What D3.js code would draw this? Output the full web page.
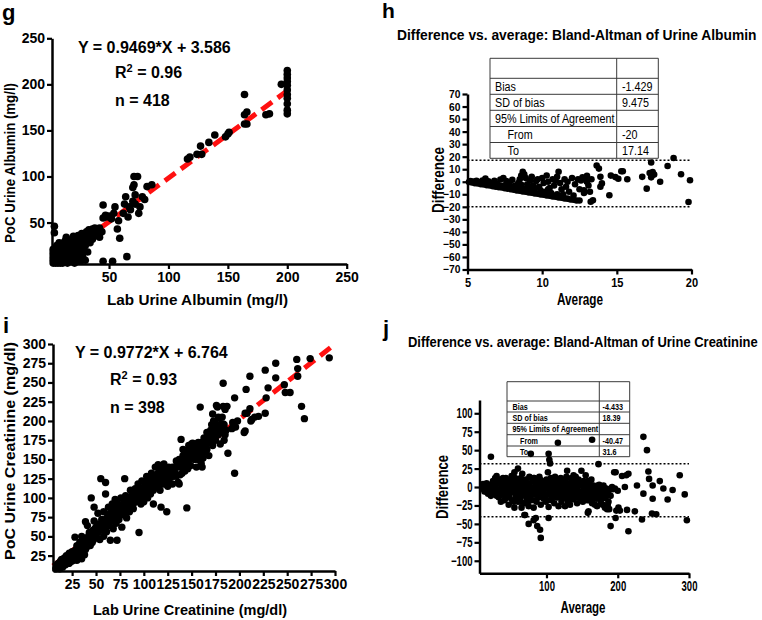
<!DOCTYPE html>
<html><head><meta charset="utf-8">
<script src="https://cdn.jsdelivr.net/npm/d3@7"></script>
<style>
body{margin:0;background:#fff;}
text{font-family:"Liberation Sans",Arial,Helvetica,sans-serif;}
</style></head>
<body><svg id="c" width="762" height="620"></svg>
<script>
// ---------- DATA ----------
// g: Lab vs PoC urine albumin (mg/l)
const albTicks = [50,100,150,200,250];
const albScatter = [
[3,6],[3,9],[3,12],[3,15],[3,18],[3,21],[4,8],[4,14],[4,20],[5,6],[5,10],[5,13],[5,17],[5,22],[6,7],[6,11],[6,15],[6,19],[7,6],[7,9],[7,13],[7,18],[8,8],[8,12],[8,16],[8,21],[9,6],[9,10],[9,14],[10,8],[10,12],[10,17],[10,22],[11,6],[11,11],[12,9],[12,15],[12,20],[13,7],[13,12],[14,10],[14,18],[15,6],[15,14],[15,22],[16,9],[16,26],[17,12],[17,18],[18,8],[18,21],[18,30],[19,14],[19,25],[20,10],[20,18],[20,35],[21,6],[21,22],[21,28],[22,13],[22,32],[23,9],[23,18],[23,25],[24,15],[24,36],[25,20],[25,29],[26,8],[26,24],[26,33],[27,16],[27,38],[28,12],[28,27],[29,20],[29,34],[30,25],[30,9],[31,30],[31,40],[32,18],[33,35],[33,42],[34,28],[35,38],[36,32],[36,43],[37,40],[38,44],[39,36],[40,42],[42,38],[44,40],[42,44],[12,28],[8,28],[4,39],[4,46],[14,34],[13,30],[10,27],[6,25],
[45,8],[53,8],[65,13],[57,43],[59,33],[42,34],[45,55],[47,58],[50,57],[52,54],[55,67],[45,69],[48,56],[54,60],[58,52],[62,60],[63,70],[64,78],[68,64],[70,73],[72,70],[66,56],[67,67],[72,80],[75,60],[76,67],[70,88],[71,100],[74,100],[71,91],[78,78],[80,75],[82,89],[86,91],[116,119],[118,121],[124,124],[128,124],[127,133],[134,137],[139,145],[148,143],[150,146],[151,148],[164,157],[166,157],[164,167],[166,170],[164,189],[182,167],[185,168],[195,200],[200,215],[200,211],[200,207],[200,203],[200,199],[200,194],[200,189],[200,185],[200,179],[200,172],[200,168]
];
const albFit = {slope:0.9469, intercept:3.586, from:2, to:200};
// h: Bland-Altman albumin
const baAlbXTicks = [5,10,15,20];
const baAlbYTicks = [-70,-60,-50,-40,-30,-20,-10,0,10,20,30,40,50,60,70];
const baAlb = [
[5.1,-0.2],[5.3,-0.6],[5.5,-1.1],[5.7,-1.4],[5.9,-1.9],[6.1,-2.2],[6.3,-2.8],[6.5,-3.0],[6.7,-3.6],[6.9,-3.9],[7.1,-4.4],[7.3,-4.6],[7.5,-5.2],[7.7,-5.5],[7.9,-6.0],[8.1,-6.3],[8.3,-6.9],[8.5,-7.1],[8.7,-7.7],[8.9,-8.0],[9.1,-8.5],[9.3,-8.7],[9.5,-9.3],[9.7,-9.5],[9.9,-10.1],[10.1,-10.3],[10.3,-10.9],[10.5,-11.1],[10.7,-11.7],[10.9,-11.9],[11.1,-12.5],[11.3,-12.7],[11.5,-13.3],[11.7,-13.5],[11.9,-14.1],[12.1,-14.3],[12.3,-14.9],[12.5,-15.0],
[5.2,0.5],[5.4,0.2],[5.6,0.8],[5.8,-0.5],[6.0,1],[6.2,2.5],[6.4,0.3],[6.6,-1],[6.8,0.8],[7.0,-1.5],[7.2,1.8],[7.4,3],[7.6,0.5],[7.8,-2.5],[8.0,1.5],[8.2,-3],[8.4,-1],[8.5,2],[8.6,5],[8.7,8],[8.8,6],[8.9,3],[9.0,-2],[9.1,-5],[9.2,1],[9.3,4],[9.4,-3],[9.5,-6],[9.6,0.5],[9.7,2],[9.8,-4],[9.9,-7],[10.0,3],[10.1,-1],[10.2,-8],[10.3,5],[10.4,0],[10.5,-5],[10.6,-9],[10.7,2],[10.8,-3],[10.9,1],[11.0,4],[11.1,8],[11.2,-1],[11.3,-6],[11.4,-10],[11.5,2],[11.6,-4],[11.7,0],[11.8,-8],[12.0,3],[12.1,-11],[12.2,-2],[12.4,2],[12.5,-6],[12.6,1],[12.8,-9],[12.9,3],[13.0,0],[13.1,-3],[13.2,-8],[13.3,2],
[6.3,-1.5],[7.0,-2.5],[7.5,-3],[8.0,-4],[8.3,-5],[8.7,-5.5],[9.0,-6.5],[9.4,-7],[7.8,-1],[8.6,-2.5],[9.2,-3.8],[10.0,-8.5],[10.4,-6],[11.0,-10],[7.3,-3.2],[6.6,-2],[5.9,-0.8],
[19.9,1.2],[19.8,-16.2],[19.3,6],[18.8,19],[18.4,12.6],[17.9,0],[17.4,7.8],[17.3,15.4],[17.2,7],[17.3,3.5],[17.5,5.7],[17.0,-5.5],[16.7,3.9],[15.7,2],[15.4,8.4],[15.3,8.4],[14.9,3.7],[15.1,2.4],[14.6,4.9],[14.5,-10.8],[13.9,3.9],[13.8,10.5],[13.65,13],[13.9,-4],[14.0,-1.3],[13.4,-14.8],[13.25,-16],[13.0,0.2],[12.8,-6.8],[13.0,4.7],[12.7,3.5]
];
const baAlbStats = {bias:-1.429, sd:9.475, from:-20, to:17.14};
const baAlbTable = [["",""],["Bias","-1.429"],["SD of bias","9.475"],["95% Limits of Agreement",""],["From","-20"],["To","17.14"]];
// i: Lab vs PoC urine creatinine (mg/dl)
const creTicks = [25,50,75,100,125,150,175,200,225,250,275,300];
const creScatter = [
[8,8],[9,12],[10,9],[11,15],[12,11],[13,18],[14,14],[15,10],[15,20],[16,16],[17,22],[18,13],[18,19],[19,25],[20,17],[21,22],[22,28],[22,15],[23,20],[24,25],[25,30],[25,18],[26,23],[27,28],[28,20],[28,49],[29,33],[30,25],[30,38],[30,19],[32,30],[33,42],[34,28],[35,50],[35,21],[36,45],[37,33],[38,40],[38,26],[39,69],[40,36],[41,64],[42,44],[43,55],[44,38],
[45,50],[45,100],[46,42],[47,58],[48,70],[48,88],[50,48],[50,62],[52,55],[52,80],[53,66],[54,46],[55,58],[55,125],[56,72],[57,62],[58,50],[58,82],[60,67],[60,105],[60,120],[61,56],[62,75],[63,88],[64,64],[65,45],[65,80],[66,70],[67,92],[68,60],[69,76],[70,85],[70,98],[71,67],[72,45],[72,80],[73,92],[74,72],[75,86],[76,100],[77,62],[78,78],[79,94],[80,125],[80,84],[81,103],[82,74],[83,90],[84,98],[85,82],[86,110],[87,94],[88,104],[89,86],[90,100],[91,112],[92,95],[93,108],[94,118],[95,55],[95,100],[96,110],[97,92],[98,122],[99,104],[100,114],[100,95],
[101,120],[102,108],[103,128],[104,100],[105,115],[106,122],[107,105],[108,132],[109,118],[110,92],[110,110],[111,126],[112,140],[113,115],[114,130],[115,143],[116,120],[117,110],[118,88],[118,134],[120,125],[121,144],[122,118],[123,130],[124,82],[124,138],[125,115],[126,122],[128,128],[130,118],[132,134],[134,128],[135,143],[136,120],[137,118],[138,130],[139,176],[140,140],[141,163],[142,152],[143,135],[144,148],[145,87],[145,160],[146,138],[147,168],[148,150],[149,142],[150,162],[151,171],[155,168],
[152,168],[153,150],[154,160],[155,140],[156,165],[157,150],[158,168],[159,155],[159,218],[160,145],[160,163],[162,152],[161,140],[162,170],[163,160],[165,175],[166,163],[167,180],[168,155],[168,172],[170,178],[170,188],[171,195],[172,168],[172,209],[173,200],[174,185],[174,198],[175,175],[176,190],[176,220],[177,218],[178,182],[178,205],[179,204],[180,190],[180,170],[181,196],[182,185],[183,196],[183,219],[183,249],[184,175],[185,215],[186,188],[187,219],[188,158],
[192,190],[193,198],[193,191],[195,230],[195,132],[196,192],[198,200],[205,185],[206,210],[206,187],[207,241],[208,210],[211,216],[211,258],[213,202],[212,200],[216,205],[220,206],[227,266],[227,210],[228,230],[230,243],[238,256],[238,275],[247,247],[248,237],[253,237],[260,280],[261,268],[261,258],[265,219],[268,203],[274,281],[294,282],
[10,14],[12,8],[13,13],[14,20],[16,12],[17,17],[19,20],[20,24],[21,15],[23,27],[24,18],[26,28],[27,22],[29,26],[31,35],[32,24],[33,32],[34,38],[36,30],[37,40],[39,33],[40,45],[41,38],[42,50],[43,42],[44,48],[46,52],[47,45],[48,55],[49,60],[50,52],[51,58],[53,58],[54,64],[56,60],[57,68],[59,62],[60,72],[61,64],[62,68],[63,78],[64,70],[66,74],[67,80],[68,72],[69,84],[70,78],[71,88],[73,76],[74,84],[75,78],[76,90],[77,82],[78,88],[79,80],[80,92],[81,86],[82,96],[83,82],[84,90],[85,100],[86,88],[87,98],[88,92],[89,102],[90,94],[91,104],[92,100],[93,96],[94,106],[95,110],[96,100],[97,112],[98,104],[99,96],[101,108],[102,116],[103,104],[104,112],[105,124],[106,108],[107,118],[108,112],[109,126],[111,116],[112,122],[113,128],[114,120],[115,132],[116,128],[117,124],[118,138],[119,118],[120,132],[121,128],[122,136],[123,124],[125,132],[126,140],[127,126],[128,136],[129,130],[130,140],[131,128],[133,140],[134,148],[136,140],[137,150],[138,142],[139,148],[140,132],[141,155],[142,144],[143,160],[144,140],[146,150],[147,158],[148,162],[149,155],[150,170],[152,158],[153,165],[154,170],[156,158],[157,172],[158,160],[160,172],[161,165],[163,178],[164,170],[165,165],[166,185],[167,172],[169,182],[171,178],[172,190],[174,180],[175,192],[177,185],[179,195],[181,188],[182,205],[184,195],[185,182]
];
const creFit = {slope:0.9772, intercept:6.764, from:5, to:300};
// j: Bland-Altman creatinine
const baCreXTicks = [100,200,300];
const baCreYTicks = [-100,-75,-50,-25,0,25,50,75,100];
const baCre = [
[10,0],[12,-3],[14,2],[15,-6],[17,-1],[18,-9],[20,3],[21,-4],[22,-12],[24,0],[25,8],[26,-6],[28,12],[29,-2],[30,15],[31,-8],[32,5],[33,-14],[34,10],[35,-3],[36,-20],[37,2],[38,-10],[40,6],[41,-5],[42,-16],[43,12],[44,-1],[45,-8],[46,4],[47,-24],[48,-12],[49,8],[50,-3],[51,15],[52,-18],[53,0],[54,-7],[55,20],[55,-28],[56,5],[57,-13],[58,-2],[59,10],[60,-20],[60,25],[61,-6],[62,3],[63,-15],[64,12],[65,-28],[65,-2],[66,18],[67,-10],[68,6],[69,-38],[69,-22],[70,0],[71,10],[72,-15],[73,-5],[74,4],[75,-26],[76,14],[77,-8],[78,0],[79,-18],[80,8],[81,-3],[82,-28],[82,-45],[83,12],[84,-10],[85,3],[86,-20],[87,-1],[88,6],[89,-14],[90,-5],[91,10],[92,-24],[93,2],[94,-8],[95,5],[96,-16],[97,-2],[98,8],[99,-20],[100,0],[101,-10],[102,20],[103,-27],[104,4],[105,-6],[106,12],[107,-18],[108,2],[109,-9],[110,7],[111,-22],[112,-2],[113,10],[114,-14],[115,3],[116,-6],[117,-26],[118,6],[119,-12],[120,0],[121,-20],[122,8],[123,-4],[124,-15],[125,2],[126,-26],[127,10],[128,-8],[129,22],[130,-2],[131,-14],[132,5],[133,-24],[134,-6],[135,12],[136,-2],[137,-17],[138,8],[139,0],[140,-10],[141,14],[142,-4],[143,-22],[144,4],[145,10],[146,-8],[147,-15],[148,2],[149,22],[150,-6],[151,-20],[152,8],[153,-2],[154,-12],[155,16],[156,0],[157,-18],[158,-35],[159,-8],[160,4],[161,-14],[162,-2],[163,10],[164,-22],[165,-6],[166,2],[167,-12],[168,-4],[169,0],[170,-16],[171,-26],[172,2],[173,-8],[174,3],[175,-12],[176,-20],[177,-4],[178,0],[179,-24],[180,2],[181,-10],[182,-28],[183,-15],[184,-2],[185,-30],[186,-6],[187,-20],[188,-30],[190,-12],[192,0],[193,-3],[195,20],[196,-2],[198,-32],[200,-5],[203,-32],
[22,41],[78,45],[103,45],[104,37],[105,32],[116,60],[164,64],[236,68],[241,50],[173,31],[297,-45],[294,-10],[287,16],[277,-4],[270,-17],[264,-2],[259,8],[254,-37],[248,-36],[249,2],[249,-16],[243,21],[244,11],[236,-9],[227,2],[234,-44],[224,-33],[215,-60],[215,18],[212,16],[206,15],[210,0],[213,-31],[201,-28],[197,-42],[197,20],[190,-53],[87,-53],[92,-69],[91,-58],[85,-42],[103,-42],[75,-50],[70,-38],[159,-33],
[11,4],[13,-6],[16,5],[19,-3],[23,-8],[27,2],[30,-12],[33,5],[36,-5],[39,12],[41,-18],[43,-8],[46,-14],[48,2],[50,10],[52,-5],[54,-20],[56,12],[58,-10],[60,2],[62,-12],[64,-20],[66,5],[68,-4],[70,-12],[72,4],[74,-20],[76,2],[78,-12],[80,-2],[82,12],[84,-18],[86,6],[88,-8],[90,14],[92,-12],[94,2],[96,-4],[98,-14],[100,10],[102,-18],[104,-4],[106,2],[108,-14],[110,-4],[112,14],[114,0],[116,-14],[118,-4],[120,12],[122,-10],[124,4],[126,-2],[128,14],[130,-20],[132,-6],[134,2],[136,-10],[138,16],[140,2],[142,-14],[144,-4],[146,6],[148,-10],[150,4],[152,-14],[154,2],[156,-8],[158,8],[160,-18],[162,-8],[164,2],[166,-16],[168,-24],[170,-6],[172,-14],[174,-2],[176,-8],[178,-16],[180,-6],[182,-2],[184,-10],[186,-24],[188,-4]
];
const baCreStats = {bias:-4.433, sd:18.39, from:-40.47, to:31.6};
const baCreTable = [["",""],["Bias","-4.433"],["SD of bias","18.39"],["95% Limits of Agreement",""],["From","-40.47"],["To","31.6"]];

// ---------- DRAW ----------
const svg = d3.select("#c");
function squeeze(sel, f){ sel.each(function(){ const w=this.getComputedTextLength(); this.setAttribute("textLength", w*f); this.setAttribute("lengthAdjust","spacingAndGlyphs"); }); }
function fit(sel, w){ sel.attr("textLength", w).attr("lengthAdjust","spacingAndGlyphs"); }

function axes(g, x, y, xt, yt, fsx, sqx, fsy, sqy, yAxisX, xAxisY){
  const ax = g.append("g").attr("transform",`translate(0,${xAxisY})`)
    .call(d3.axisBottom(x).tickValues(xt).tickSize(5).tickSizeOuter(0).tickPadding(3));
  const ay = g.append("g").attr("transform",`translate(${yAxisX},0)`)
    .call(d3.axisLeft(y).tickValues(yt).tickSize(5).tickSizeOuter(0).tickPadding(2));
  [[ax,fsx,sqx],[ay,fsy,sqy]].forEach(([a,fs,sq])=>{
    a.select(".domain").attr("stroke","#000").attr("stroke-width",2.5);
    a.selectAll(".tick line").attr("stroke","#000").attr("stroke-width",2.2);
    a.selectAll(".tick text").attr("fill","#000").attr("font-weight","bold")
      .attr("font-size",fs).style("font-family",'"Liberation Sans",Arial,sans-serif');
    if(sq<1) squeeze(a.selectAll(".tick text"), sq);
  });
  return [ax,ay];
}
function txt(x,y,s,opt={}){
  const t = svg.append("text").attr("x",x).attr("y",y).text(s)
    .attr("font-size",opt.fs||14).attr("font-weight",opt.w||"bold")
    .attr("text-anchor",opt.a||"start").attr("fill","#000");
  if(opt.rot) t.attr("transform",`rotate(-90,${x},${y})`);
  if(opt.len) fit(t,opt.len);
  return t;
}
function title(x,y,s,fs,w){
  const t = svg.append("text").attr("x",0).attr("y",0).text(s)
    .attr("font-size",fs).attr("font-weight","bold").attr("fill","#000");
  const nat = t.node().getComputedTextLength();
  t.attr("transform",`translate(${x},${y}) scale(${w/nat},1)`);
  return t;
}

// ----- Panel g -----
{
  const g = svg.append("g");
  const x = d3.scaleLinear().domain([2,250]).range([52,346.7]);
  const y = d3.scaleLinear().domain([5,250]).range([264,38.3]);
  g.append("line").attr("x1",x(albFit.from)).attr("y1",y(albFit.slope*albFit.from+albFit.intercept))
    .attr("x2",x(albFit.to)).attr("y2",y(albFit.slope*albFit.to+albFit.intercept))
    .attr("stroke","#ff1010").attr("stroke-width",5).attr("stroke-dasharray","13,7");
  g.selectAll("circle").data(albScatter).join("circle")
    .attr("cx",d=>x(d[0])).attr("cy",d=>y(d[1])).attr("r",3.8).attr("fill","#000");
  axes(g,x,y,albTicks,albTicks,14,1,14,1,52,264);
  txt(2,20,"g",{fs:22});
  txt(197.5,305,"Lab Urine Albumin (mg/l)",{fs:15.5,a:"middle",len:181});
  txt(15,163,"PoC Urine Albumin (mg/l)",{fs:15.5,a:"middle",rot:true,len:160});
  txt(78,53.3,"Y = 0.9469*X + 3.586",{fs:16});
  const r = txt(115,78.3,"R",{fs:16});
  r.append("tspan").attr("dy",-6).attr("font-size",11).text("2");
  r.append("tspan").attr("dy",6).text(" = 0.96");
  txt(115,106,"n = 418",{fs:16});
}

// ----- Panel h -----
{
  const g = svg.append("g");
  const x = d3.scaleLinear().domain([5,20]).range([467.5,691.5]);
  const y = d3.scaleLinear().domain([-70,70]).range([269.5,94]);
  const tx=[490,616.7,658.3], ty=[58.3,78.3,94.3,110.3,126.5,142.5,158.3];
  const tb = g.append("g").attr("stroke","#3a3a3a").attr("stroke-width",1);
  ty.forEach(v=>tb.append("line").attr("x1",tx[0]).attr("x2",tx[2]).attr("y1",v).attr("y2",v));
  tx.forEach(v=>tb.append("line").attr("x1",v).attr("x2",v).attr("y1",ty[0]).attr("y2",ty[6]));
  baAlbTable.forEach((row,i)=>{
    const cy=(ty[i]+ty[i+1])/2+4.2;
    const indent = (row[0]==="From"||row[0]==="To")?12.5:0;
    if(row[0]) squeeze(txt(495+indent,cy,row[0],{fs:12.5,w:"normal"}),0.86);
    if(row[1]) squeeze(txt(622,cy,row[1],{fs:12.5,w:"normal"}),0.86);
  });
  [baAlbStats.to, baAlbStats.from].forEach(v=>{
    g.append("line").attr("x1",x(5)).attr("x2",x(20)).attr("y1",y(v)).attr("y2",y(v))
      .attr("stroke","#000").attr("stroke-width",1.5).attr("stroke-dasharray","2,2");
  });
  g.selectAll("circle").data(baAlb).join("circle")
    .attr("cx",d=>x(d[0])).attr("cy",d=>y(d[1])).attr("r",3.3).attr("fill","#000");
  axes(g,x,y,baAlbXTicks,baAlbYTicks,13.5,0.82,10.8,0.95,467.5,269.5);
  txt(382,18,"h",{fs:21});
  title(397,40,"Difference vs. average: Bland-Altman of Urine Albumin",15,360);
  txt(444,180,"Difference",{fs:16,a:"middle",rot:true,len:66});
  txt(580,304.5,"Average",{fs:16,a:"middle",len:46});
}

// ----- Panel i -----
{
  const g = svg.append("g");
  const x = d3.scaleLinear().domain([5,300]).range([53,335]);
  const y = d3.scaleLinear().domain([5,300]).range([571,344]);
  g.append("line").attr("x1",x(creFit.from)).attr("y1",y(creFit.slope*creFit.from+creFit.intercept))
    .attr("x2",x(creFit.to)).attr("y2",y(creFit.slope*creFit.to+creFit.intercept))
    .attr("stroke","#ff1010").attr("stroke-width",5).attr("stroke-dasharray","13,7");
  g.selectAll("circle").data(creScatter).join("circle")
    .attr("cx",d=>x(d[0])).attr("cy",d=>y(d[1])).attr("r",3.7).attr("fill","#000");
  axes(g,x,y,creTicks,creTicks,14,1,14,1,53,571);
  txt(3,333,"i",{fs:22});
  txt(190,614.5,"Lab Urine Creatinine (mg/dl)",{fs:15.5,a:"middle",len:194});
  txt(15,451,"PoC Urine Creatinine (mg/dl)",{fs:15.5,a:"middle",rot:true,len:218});
  txt(75,358.3,"Y = 0.9772*X + 6.764",{fs:16});
  const r = txt(110,385,"R",{fs:16});
  r.append("tspan").attr("dy",-6).attr("font-size",11).text("2");
  r.append("tspan").attr("dy",6).text(" = 0.93");
  txt(110,412.7,"n = 398",{fs:16});
}

// ----- Panel j -----
{
  const g = svg.append("g");
  const x = d3.scaleLinear().domain([6,300]).range([479.5,689]);
  const y = d3.scaleLinear().domain([-117,118]).range([573.3,400]);
  const tx=[507,599.3,629.7], ty=[381.7,401,412,423.3,434.7,446,456.7];
  const tb = g.append("g").attr("stroke","#3a3a3a").attr("stroke-width",1);
  ty.forEach(v=>tb.append("line").attr("x1",tx[0]).attr("x2",tx[2]).attr("y1",v).attr("y2",v));
  tx.forEach(v=>tb.append("line").attr("x1",v).attr("x2",v).attr("y1",ty[0]).attr("y2",ty[6]));
  baCreTable.forEach((row,i)=>{
    const cy=(ty[i]+ty[i+1])/2+3.2;
    const indent = (row[0]==="From"||row[0]==="To")?7.5:0;
    if(row[0]) squeeze(txt(512.5+indent,cy,row[0],{fs:9,w:"bold"}),0.8);
    if(row[1]) squeeze(txt(602.5,cy,row[1],{fs:9,w:"bold"}),0.8);
  });
  [baCreStats.to, baCreStats.from].forEach(v=>{
    g.append("line").attr("x1",x(6)).attr("x2",x(300)).attr("y1",y(v)).attr("y2",y(v))
      .attr("stroke","#000").attr("stroke-width",1.5).attr("stroke-dasharray","2,2");
  });
  g.selectAll("circle").data(baCre).join("circle")
    .attr("cx",d=>x(d[0])).attr("cy",d=>y(d[1])).attr("r",3.3).attr("fill","#000");
  axes(g,x,y,baCreXTicks,baCreYTicks,14,0.68,14,0.68,479.5,573.3);
  txt(383,336,"j",{fs:22});
  title(408,347,"Difference vs. average: Bland-Altman of Urine Creatinine",15,350);
  txt(448,487,"Difference",{fs:16,a:"middle",rot:true,len:64});
  txt(583,613,"Average",{fs:16,a:"middle",len:45});
}
</script></body></html>
